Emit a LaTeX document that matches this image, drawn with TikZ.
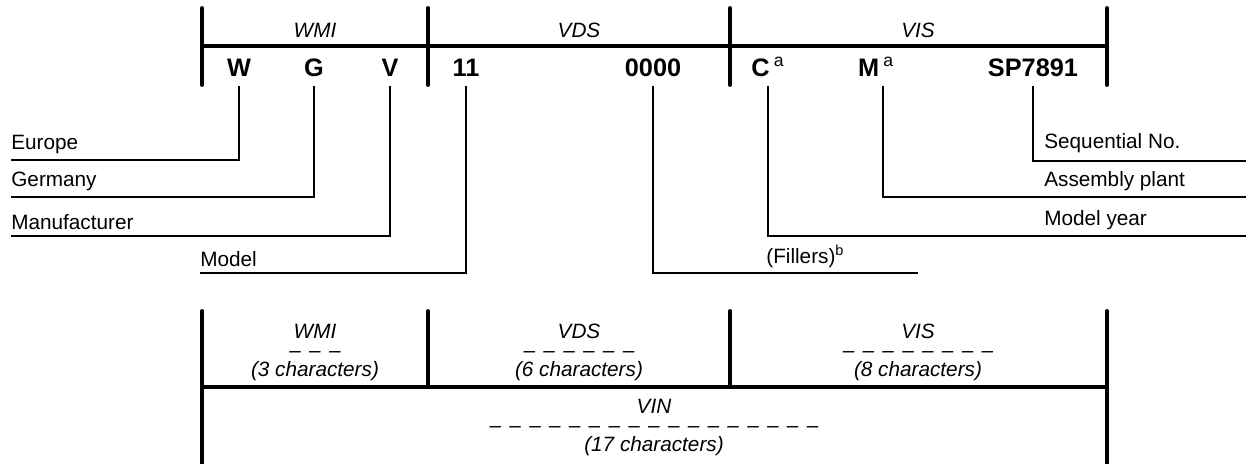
\documentclass[tikz,border=0pt]{standalone}
\usepackage{fontspec}
\setmainfont{Liberation Sans}

\newcommand\dashrow[1]{\foreach \k in {1,...,#1}{\textendash\kern0.4em}\kern-0.4em}

\begin{document}
\begin{tikzpicture}[
x=0.02cm, y=-0.02cm,
bar/.style={line width=2.2pt, line cap=round},
lead/.style={line width=1pt},
chr/.style={font=\fontsize{14.4}{16}\selectfont\bfseries,
inner xsep=0pt, inner ysep=5.5pt, anchor=base},
part/.style={font=\fontsize{11.8}{14}\selectfont\itshape, anchor=base},
lbl/.style={font=\fontsize{11.8}{14}\selectfont, anchor=base west, inner sep=0pt},
cnt/.style={font=\fontsize{11.8}{12}\selectfont\itshape, align=center, anchor=base}
]
\useasboundingbox (0,0) rectangle (1250,463);

% header brackets
\draw[bar] (202,8) -- (202,85);
\draw[bar] (428,8) -- (428,85);
\draw[bar] (730,8) -- (730,85);
\draw[bar] (1107,8) -- (1107,85);
\draw[bar, line cap=butt] (202,46) -- (1107,46);

\node[part] (wmi) at (315,37) {WMI};
\node[part] (vds) at (579,37) {VDS};
\node[part] (vis) at (918,37) {VIS};

% characters of the number
\node[chr] (w) at (239,76) {W};
\node[chr] (g) at (314,76) {G};
\node[chr] (v) at (390,76) {V};
\node[chr] (eleven) at (466,76) {11};
\node[chr] (zeros) at (653,76) {0000};
\node[chr] (c) at (768,76) {C\,\textsuperscript{\mdseries a}};
\node[chr] (m) at (876,76) {M\,\textsuperscript{\mdseries a}};
\node[chr] (sp) at (1033,76) {SP7891};

% labels
\node[lbl] (europe) at (11,149) {Europe};
\node[lbl] (germany) at (11,186) {Germany};
\node[lbl] (manuf) at (11,229) {Manufacturer};
\node[lbl] (model) at (200,266) {Model};
\node[lbl] (seq) at (1044,148) {Sequential No.};
\node[lbl] (plant) at (1044,186) {Assembly plant};
\node[lbl] (year) at (1044,225) {Model year};
\node[lbl] (fill) at (766,263) {(Fillers)\textsuperscript{b}};

\coordinate (euend) at (11,160);
\coordinate (geend) at (11,197);
\coordinate (maend) at (11,236);
\coordinate (moend) at (200,273);
\coordinate (seqend) at (1246,161);
\coordinate (plend) at (1246,197);
\coordinate (yrend) at (1246,236);
\coordinate (fiend) at (918,273);

\draw[lead] (w) |- (euend);
\draw[lead] (g) |- (geend);
\draw[lead] (v) |- (maend);
\draw[lead] (eleven) |- (moend);
\draw[lead] (zeros) |- (fiend);
\draw[lead] (c) |- (yrend);
\draw[lead] ([xshift=4pt]m.south) |- (plend);
\draw[lead] (sp) |- (seqend);

% summary brackets
\draw[bar] (202,311) -- (202,470);
\draw[bar] (428,311) -- (428,387);
\draw[bar] (730,311) -- (730,387);
\draw[bar] (1107,311) -- (1107,470);
\draw[bar, line cap=butt] (202,387) -- (1107,387);

\node[cnt] (wmicnt) at (315,376) {WMI\\[-1pt] \dashrow{3}\\[-1.5pt] (3 characters)};
\node[cnt] (vdscnt) at (579,376) {VDS\\[-1pt] \dashrow{6}\\[-1.5pt] (6 characters)};
\node[cnt] (viscnt) at (918,376) {VIS\\[-1pt] \dashrow{8}\\[-1.5pt] (8 characters)};
\node[cnt] (vincnt) at (654,451) {VIN\\[-1pt] \dashrow{17}\\[-1.5pt] (17 characters)};

\end{tikzpicture}
\end{document}
